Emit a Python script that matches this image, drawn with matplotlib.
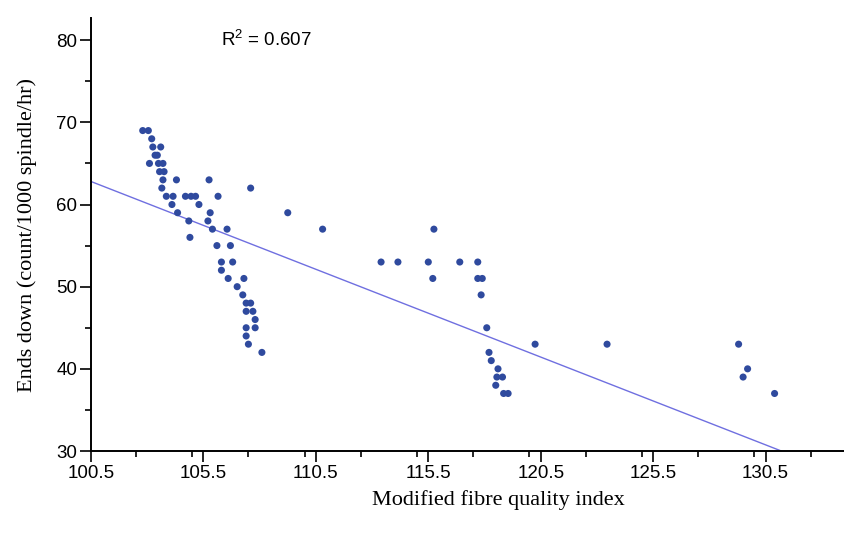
import matplotlib
matplotlib.use("Agg")
import matplotlib.pyplot as plt
from matplotlib.ticker import MultipleLocator
import numpy as np

plt.rcParams['font.family'] = ['Liberation Sans', 'DejaVu Sans']
plt.rcParams['mathtext.fontset'] = 'custom'
plt.rcParams['mathtext.rm'] = 'Liberation Sans'
plt.rcParams['mathtext.it'] = 'Liberation Sans'

# data
mfqi = [102.8, 103.05, 103.2, 103.25, 103.6, 103.35, 103.45, 103.1, 103.5, 103.7,
        103.55, 103.75, 103.7, 104.3, 105.75, 103.65, 107.6, 103.85, 104.15, 104.7,
        104.95, 105.15, 106.15, 104.1, 105.3, 104.35, 105.8, 104.85, 105.7, 105.9,
        106.55, 104.9, 106.1, 106.7, 106.3, 106.8, 106.3, 106.6, 107.3, 107.0,
        107.25, 107.4, 107.6, 107.4, 107.7, 107.8, 107.4, 107.8, 107.4, 107.5,
        108.1,
        109.25, 110.8, 113.4, 114.15, 115.5, 116.9, 117.7, 115.75, 115.7, 117.7,
        117.9, 117.85, 118.1, 118.2, 118.3, 118.6, 118.55, 118.8, 118.5, 118.85,
        119.05, 120.25, 123.45,
        129.3, 129.7, 129.5, 130.9]
ends_down = [69, 69, 68, 67, 67, 66, 66, 65, 65, 65,
             64, 64, 63, 63, 63, 62, 62, 61, 61, 61,
             61, 61, 61, 60, 60, 59, 59, 58, 58, 57,
             57, 56, 55, 55, 53, 53, 52, 51, 51, 50,
             49, 48, 48, 47, 47, 46, 45, 45, 44, 43,
             42,
             59, 57, 53, 53, 53, 53, 53, 57, 51, 51,
             51, 49, 45, 42, 41, 40, 39, 39, 38, 37,
             37, 43, 43,
             43, 40, 39, 37]

fit_x = [100.5, 131.2]
fit_y = [62.8, 30.0]
r2_text = 'R$^2$ = 0.607'

xticks = [100.5, 105.5, 110.5, 115.5, 120.5, 125.5, 130.5]
yticks = [30, 40, 50, 60, 70, 80]

fig = plt.figure(figsize=(8.44, 5.38), dpi=100)
# axes run past the right edge like the cropped original
ax = fig.add_axes([91/844, (538-451)/538, 814/844, 433/538])

ax.plot(fit_x, fit_y, color='#6f6fe0', lw=1.0, zorder=2)
ax.scatter(mfqi, ends_down, s=26, color='#2f4a9e', edgecolors='none', zorder=3)

ax.set_xlim(100.5, 136.7)
ax.set_ylim(30, 82.7)
ax.set_xticks(xticks)
ax.set_yticks(yticks)
ax.xaxis.set_minor_locator(MultipleLocator(2.5))
ax.yaxis.set_minor_locator(MultipleLocator(5))

for s in ['top', 'right']:
    ax.spines[s].set_visible(False)
for s in ['left', 'bottom']:
    ax.spines[s].set_linewidth(1.4)

ax.tick_params(which='major', length=8, width=1.2, labelsize=13.5, pad=2)
ax.tick_params(which='minor', length=4, width=1.2)

ax.set_xlabel('Modified fibre quality index', family='Liberation Serif',
              fontsize=16, labelpad=6)
ax.set_ylabel('Ends down (count/1000 spindle/hr)', family='Liberation Serif',
              fontsize=16, labelpad=14)

ax.text(106.3, 80, r2_text, fontsize=13.5, va='center', ha='left')

fig.savefig('out.png', dpi=100, facecolor='w')
